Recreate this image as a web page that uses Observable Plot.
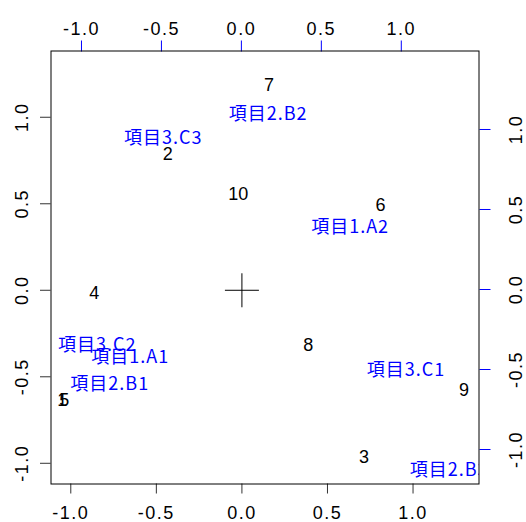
<!DOCTYPE html>
<html>
<head>
<meta charset="utf-8">
<script src="https://cdn.jsdelivr.net/npm/d3@7"></script>
<script src="https://cdn.jsdelivr.net/npm/@observablehq/plot@0.6"></script>
<style>
  html, body { margin: 0; padding: 0; background: #fff; }
  #wrap { position: relative; width: 526px; height: 522px; }
  #wrap svg { position: absolute; left: 0; top: 0; background: transparent !important; }
  #wrap g[aria-label="x-axis tick label"] text, #wrap g[aria-label="y-axis tick label"] text { letter-spacing: 1.5px; }
</style>
</head>
<body>
<div id="wrap"></div>
<script>
// Row (observation) scores: bottom / left axes
const rowIds = ["1", "2", "3", "4", "5", "6", "7", "8", "9", "10"];
const rowX = [-1.050, -0.434, 0.714, -0.863, -1.038, 0.810, 0.159, 0.387, 1.298, -0.022];
const rowY = [-0.634, 0.785, -0.966, -0.016, -0.634, 0.493, 1.187, -0.319, -0.576, 0.554];

// Column (category) scores: top / right axes
const colLabels = ["項目1.A1", "項目1.A2", "項目2.B1", "項目2.B2", "項目2.B3", "項目3.C1", "項目3.C2", "項目3.C3"];
const colX = [-0.695, 0.680, -0.823, 0.167, 1.299, 1.030, -0.901, -0.489];
const colY = [-0.422, 0.390, -0.591, 1.094, -1.128, -0.503, -0.350, 0.947];

// Tick values and origin marker
const tickValues = [-1.0, -0.5, 0.0, 0.5, 1.0];
const originX = [0];
const originY = [0];

// Scale domains
const rowXDomain = [-1.1156, 1.3854];
const rowYDomain = [-1.1197, 1.3830];
const colXDomain = [-1.1906, 1.4860];
const colYDomain = [-1.2156, 1.4906];

const W = 526, H = 522;
const margins = {marginTop: 50.5, marginBottom: 38.5, marginLeft: 50.5, marginRight: 47.5};
const fmt = d => d.toFixed(1);
const tickFont = "'Liberation Sans', Arial, sans-serif";
const cjkFont = "'Noto Sans CJK JP', 'Noto Sans', sans-serif";

const cross = {
  draw(context, size) {
    const r = Math.sqrt(size / Math.PI);
    context.moveTo(-r, 0); context.lineTo(r, 0);
    context.moveTo(0, -r); context.lineTo(0, r);
  }
};

const p1 = Plot.plot({
  width: W, height: H, ...margins,
  style: {fontFamily: tickFont, fontSize: "18px", color: "black", background: "transparent"},
  x: {domain: rowXDomain},
  y: {domain: rowYDomain},
  marks: [
    Plot.axisX(tickValues, {anchor: "bottom", tickSize: 10, tickPadding: 12, tickFormat: fmt, label: null, fontSize: 18, stroke: "#333"}),
    Plot.axisY(tickValues, {anchor: "left", tickSize: 10.5, tickPadding: 13, tickRotate: -90, tickFormat: fmt, label: null, fontSize: 18, stroke: "#333"}),
    Plot.text(rowIds, {x: (d, i) => rowX[i], y: (d, i) => rowY[i], text: d => d, fontSize: 18, fontFamily: tickFont, fill: "black"}),
    Plot.dot(originX, {x: d => d, y: (d, i) => originY[i], symbol: cross, r: 17, fill: "none", stroke: "black", strokeWidth: 1})
  ]
});

const p2 = Plot.plot({
  width: W, height: H, ...margins,
  style: {fontFamily: tickFont, fontSize: "18px", color: "black", background: "transparent"},
  x: {domain: colXDomain},
  y: {domain: colYDomain},
  marks: [
    Plot.axisX(tickValues, {anchor: "top", tickSize: 11, tickPadding: 5, tickFormat: fmt, label: null, fontSize: 18, stroke: "blue", fill: "black"}),
    Plot.axisY(tickValues, {anchor: "right", tickSize: 11, tickPadding: 32, tickRotate: -90, tickFormat: fmt, label: null, fontSize: 18, stroke: "blue", fill: "black"}),
    Plot.text(colLabels, {x: (d, i) => colX[i], y: (d, i) => colY[i], text: d => d, fontSize: 18, fontFamily: cjkFont, fill: "blue"}),
    Plot.frame({stroke: "black"})
  ]
});

// Clip the category labels to the plotting frame (as R does)
(function clipLabels(svg) {
  const ns = "http://www.w3.org/2000/svg";
  const defs = document.createElementNS(ns, "defs");
  const cp = document.createElementNS(ns, "clipPath");
  cp.setAttribute("id", "frameClip");
  const rect = document.createElementNS(ns, "rect");
  rect.setAttribute("x", margins.marginLeft);
  rect.setAttribute("y", margins.marginTop);
  rect.setAttribute("width", W - margins.marginLeft - margins.marginRight);
  rect.setAttribute("height", H - margins.marginTop - margins.marginBottom);
  cp.appendChild(rect);
  defs.appendChild(cp);
  svg.insertBefore(defs, svg.firstChild);
  svg.querySelectorAll('g[aria-label="text"]').forEach(g => g.setAttribute("clip-path", "url(#frameClip)"));
  svg.querySelectorAll('g[aria-label="text"] text').forEach(t => t.style.letterSpacing = "1px");
})(p2);

const wrap = document.getElementById("wrap");
wrap.appendChild(p1);
wrap.appendChild(p2);
</script>
</body>
</html>
